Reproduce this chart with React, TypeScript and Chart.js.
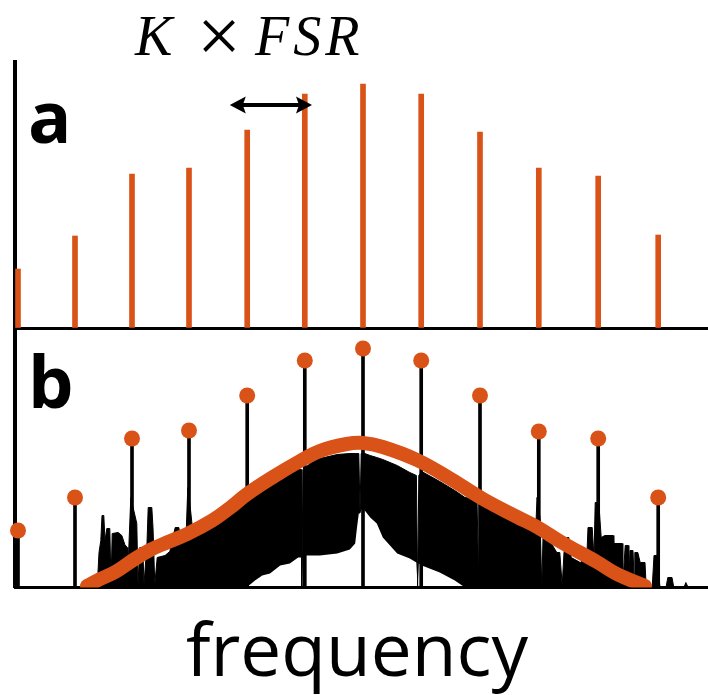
import React, { useEffect, useRef } from 'react';
import { Chart, registerables } from 'chart.js';

Chart.register(...registerables);

const ORANGE = '#D95319';

// frequency axis (arbitrary units), comb lines positions
const MODE_FREQ = [0, 9.5, 19, 28.5, 38.2, 47.8, 57.5, 67.2, 77, 86.8, 96.7, 106.7];
// panel a: comb line amplitudes
const COMB_A = [59, 92, 154, 160, 198, 234, 244, 234, 196, 160, 152, 93];
// panel b: measured comb peak amplitudes
const COMB_B = [57, 90, 149, 157, 192, 227, 239, 227, 192, 156, 149, 90];

// panel b: smooth envelope
const ENV_F = [11.5, 13.7, 16.2, 19.2, 22.0, 24.8, 28.2, 32.5, 35.3, 38.2, 42.5, 47.0, 50.3, 54.8, 57.5, 60.8, 66.5, 72.0, 77.5, 83.2, 86.5, 90.8, 96.5, 99.8, 104.5];
const ENV_P = [1.5, 8.5, 15.5, 27.5, 37.5, 45, 53.5, 67.5, 79.5, 93.5, 110.5, 126.5, 136.5, 143.5, 144.5, 140.5, 127.5, 109, 88.5, 70.5, 60.5, 44.5, 25.5, 13.5, 1.5];

// panel b: measured spectrum (upper and lower edge of the dense trace)
const SPEC_F = [
  13.2, 13.5, 13.8, 14.0, 14.3, 14.5, 14.8, 15.3, 15.5, 15.7, 16.7, 17.3, 17.8, 18.2, 18.3, 18.5, 18.8, 19.3, 19.8, 20.0,
  20.3, 20.8, 21.0, 21.5, 21.7, 22.3, 22.5, 22.8, 23.2, 24.5, 25.3, 26.2, 26.8, 27.3, 28.0, 28.3, 28.8, 29.2, 30.3, 32.0,
  33.7, 35.3, 37.0, 37.8, 38.7, 39.5, 40.7, 42.0, 43.7, 45.3, 46.7, 47.2, 47.3, 47.5, 48.7, 50.3, 53.2, 55.3, 56.2, 56.5,
  56.8, 57.0, 57.2, 57.8, 58.7, 59.8, 60.8, 62.0, 63.2, 65.3, 66.4, 66.6, 66.8, 67.3, 70.3, 72.8, 74.5, 76.5, 76.8, 77.3,
  80.3, 82.0, 83.7, 85.3, 86.3, 86.5, 87.0, 87.3, 87.5, 88.7, 89.8, 90.3, 90.7, 91.0, 91.5, 91.8, 92.2, 93.7, 94.8, 95.0,
  95.7, 96.0, 96.2, 96.8, 97.2, 97.8, 99.2, 99.3, 100.7, 100.8, 101.2, 101.7, 101.8, 102.0, 102.5, 102.7, 102.8, 103.3, 103.7, 104.5,
  104.7, 105.7, 106.0, 106.5, 107.0, 108.0, 108.3, 109.0, 109.3, 111.0, 111.3, 111.7,
];
const SPEC_TOP = [
  0, 35, 47, 72, 72, 47, 59, 59, 4, 54, 55, 52, 43, 40, 4, 45, 90, 77, 64, 3,
  40, 40, 3, 45, 80, 80, 60, 3, 30, 32, 36, 60, 60, 45, 50, 100, 75, 52, 53, 58,
  65, 73, 81, 85, 89, 92, 97, 102, 108, 114, 118, 118, 0, 118, 124, 129, 133, 134, 134, 134,
  134, 75, 134, 134, 132, 130, 128, 125, 122, 115, 112, 0, 112, 116, 106, 97, 90, 88, 3, 88,
  80, 74, 68, 62, 60, 90, 70, 0, 50, 46, 35, 35, 2, 35, 50, 50, 30, 25, 30, 60,
  60, 30, 85, 85, 50, 52, 52, 44, 44, 2, 42, 42, 5, 37, 37, 5, 35, 35, 25, 25,
  0, 0, 32, 32, 0, 0, 10, 10, 0, 0, 5, 0,
];
const SPEC_LOW = [
  0, 0, 0, 0, 0, 0, 0, 0, 0, 0, 0, 0, 0, 0, 0, 0, 0, 0, 0, 0,
  0, 0, 0, 0, 0, 0, 0, 0, 0, 0, 0, 0, 0, 0, 0, 0, 0, 0, 0, 0,
  0, 0, 0, 0, 3, 7, 12, 14, 22, 24, 30, 30, 0, 32, 32, 32, 34, 38, 44, 60,
  74, 74, 78, 77, 70, 64, 50, 42, 34, 29, 25, 0, 24, 22, 15, 7, 0, 0, 0, 0,
  0, 0, 0, 0, 0, 0, 0, 0, 0, 0, 0, 0, 0, 0, 0, 0, 0, 0, 0, 0,
  0, 0, 0, 0, 0, 0, 0, 0, 0, 0, 0, 0, 0, 0, 0, 0, 0, 0, 0, 0,
  0, 0, 0, 0, 0, 0, 0, 0, 0, 0, 0, 0,
];

const X_MIN = -0.5;
const X_MAX = 115;
const Y_MAX_A = 266;
const Y_MAX_B = 259.5;
const ARROW_SPAN = [35.3, 49.0];
const ARROW_LEVEL = 223;

const hiddenAxis = (width: number) => ({
  ticks: { display: false },
  grid: { drawOnChartArea: false, drawTicks: false },
  border: { color: '#000', width },
});

const annotA = {
  id: 'annotA',
  afterDraw(chart: any) {
    const { ctx, scales } = chart;
    const x1 = scales.x.getPixelForValue(ARROW_SPAN[0]);
    const x2 = scales.x.getPixelForValue(ARROW_SPAN[1]);
    const yy = scales.y.getPixelForValue(ARROW_LEVEL);
    ctx.save();
    ctx.strokeStyle = '#000';
    ctx.fillStyle = '#000';
    ctx.lineWidth = 4;
    ctx.beginPath();
    ctx.moveTo(x1 + 10, yy);
    ctx.lineTo(x2 - 10, yy);
    ctx.stroke();
    ctx.beginPath();
    ctx.moveTo(x1, yy);
    ctx.lineTo(x1 + 16, yy - 8.5);
    ctx.lineTo(x1 + 13, yy);
    ctx.lineTo(x1 + 16, yy + 8.5);
    ctx.closePath();
    ctx.fill();
    ctx.beginPath();
    ctx.moveTo(x2, yy);
    ctx.lineTo(x2 - 16, yy - 8.5);
    ctx.lineTo(x2 - 13, yy);
    ctx.lineTo(x2 - 16, yy + 8.5);
    ctx.closePath();
    ctx.fill();

    ctx.textBaseline = 'alphabetic';
    ctx.textAlign = 'left';
    ctx.font = 'bold 72px "Open Sans"';
    ctx.fillText('a', 28, 143);

    ctx.font = 'italic 56px "Liberation Serif"';
    ctx.fillText('K', 135, 55);
    ctx.textAlign = 'center';
    ctx.font = '78px "Liberation Serif"';
    ctx.fillText('×', 219, 62);
    ctx.textAlign = 'left';
    ctx.font = 'italic 56px "Liberation Serif"';
    (ctx as any).letterSpacing = '4px';
    ctx.fillText('FSR', 255, 55);
    ctx.restore();
  },
};

const annotB = {
  id: 'annotB',
  afterDraw(chart: any) {
    const { ctx } = chart;
    ctx.save();
    ctx.fillStyle = '#000';
    ctx.textBaseline = 'alphabetic';
    ctx.textAlign = 'left';
    ctx.font = 'bold 72px "Open Sans"';
    ctx.fillText('b', 28, 80);
    ctx.textAlign = 'center';
    ctx.font = '73px "Open Sans"';
    ctx.fillText('frequency', 357, 348);
    ctx.restore();
  },
};

export default function App() {
  const refA = useRef<HTMLCanvasElement>(null);
  const refB = useRef<HTMLCanvasElement>(null);

  useEffect(() => {
    const chartA = new Chart(refA.current as HTMLCanvasElement, {
      type: 'bar',
      data: {
        datasets: [
          {
            data: MODE_FREQ.map((f, i) => ({ x: f, y: COMB_A[i] })),
            backgroundColor: ORANGE,
            borderWidth: 0,
            barThickness: 5,
          } as any,
        ],
      },
      options: {
        responsive: false,
        animation: false,
        events: [],
        layout: { autoPadding: false, padding: { left: 15, right: 0, top: 62, bottom: 4 } },
        plugins: { legend: { display: false }, tooltip: { enabled: false } },
        scales: {
          x: { type: 'linear', min: X_MIN, max: X_MAX, offset: false, ...hiddenAxis(3) } as any,
          y: { type: 'linear', min: 0, max: Y_MAX_A, ...hiddenAxis(4) } as any,
        },
      } as any,
      plugins: [annotA],
    });

    const chartB = new Chart(refB.current as HTMLCanvasElement, {
      type: 'line',
      data: {
        datasets: [
          {
            type: 'line',
            data: MODE_FREQ.map((f, i) => ({ x: f, y: COMB_B[i] })),
            showLine: false,
            pointRadius: 8,
            pointBackgroundColor: ORANGE,
            pointBorderWidth: 0,
            clip: false,
          },
          {
            type: 'line',
            data: ENV_F.map((f, i) => ({ x: f, y: ENV_P[i] })),
            borderColor: ORANGE,
            borderWidth: 14,
            pointRadius: 0,
            tension: 0.4,
            borderCapStyle: 'round',
            borderJoinStyle: 'round',
            fill: false,
          },
          {
            type: 'bar',
            data: MODE_FREQ.map((f, i) => ({ x: f, y: COMB_B[i] })),
            backgroundColor: '#000',
            borderWidth: 0,
            barThickness: 3,
          },
          {
            type: 'line',
            data: SPEC_F.map((f, i) => ({ x: f, y: SPEC_TOP[i] })),
            borderColor: '#000',
            borderWidth: 1,
            backgroundColor: '#000',
            pointRadius: 0,
            tension: 0,
            fill: '+1',
          },
          {
            type: 'line',
            data: SPEC_F.map((f, i) => ({ x: f, y: SPEC_LOW[i] })),
            borderColor: 'rgba(0,0,0,0)',
            borderWidth: 0,
            pointRadius: 0,
            tension: 0,
            fill: false,
          },
        ] as any,
      },
      options: {
        responsive: false,
        animation: false,
        events: [],
        layout: { autoPadding: false, padding: { left: 15, right: 0, top: 0, bottom: 107.5 } },
        plugins: { legend: { display: false }, tooltip: { enabled: false } },
        scales: {
          x: { type: 'linear', min: X_MIN, max: X_MAX, offset: false, ...hiddenAxis(3) } as any,
          y: { type: 'linear', min: 0, max: Y_MAX_B, ...hiddenAxis(4) } as any,
        },
      } as any,
      plugins: [annotB],
    });

    return () => {
      chartA.destroy();
      chartB.destroy();
    };
  }, []);

  return (
    <div style={{ position: 'fixed', left: 0, top: 0, width: 708, height: 695, background: '#fff' }}>
      <canvas ref={refA} width={708} height={332} style={{ position: 'absolute', left: 0, top: 0 }} />
      <canvas ref={refB} width={708} height={367} style={{ position: 'absolute', left: 0, top: 328 }} />
    </div>
  );
}
